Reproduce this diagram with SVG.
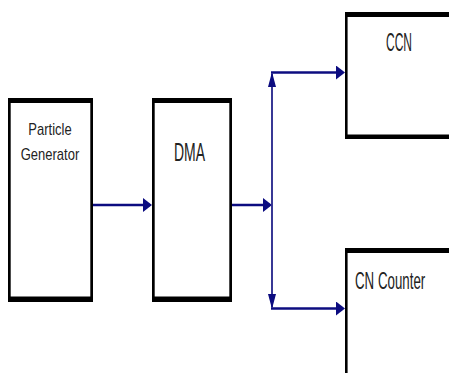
<svg xmlns="http://www.w3.org/2000/svg" width="449" height="373" viewBox="0 0 449 373">
<style>
.frame{fill:#000}
.inner{fill:#fff}
.lbl{font-family:"Liberation Sans",Arial,sans-serif;fill:#222}
.conn{fill:none;stroke:#0c0c80;stroke-width:2.7}
.vconn{fill:none;stroke:#23238a;stroke-width:1.8}
</style>
<defs>
<marker id="ah" markerUnits="userSpaceOnUse" markerWidth="9" markerHeight="14" refX="7" refY="7" orient="auto">
<path d="M0,0 L9,7 L0,14 z" fill="#0c0c80"/>
</marker>
<marker id="av" markerUnits="userSpaceOnUse" markerWidth="15" markerHeight="8" refX="13" refY="4" orient="auto">
<path d="M0,0 L15,4 L0,8 z" fill="#0c0c80"/>
</marker>
</defs>
<rect width="449" height="373" fill="#fff"/>
<g id="particle-generator">
<rect class="frame" x="8" y="98" width="85" height="204"/>
<rect class="inner" x="10.7" y="103" width="79.6" height="193.5"/>
<text class="lbl" font-size="13" text-anchor="middle" transform="translate(50,135) scale(1,1.32)">Particle</text>
<text class="lbl" font-size="13" text-anchor="middle" transform="translate(50,160) scale(1,1.32)">Generator</text>
</g>
<g id="dma">
<rect class="frame" x="152" y="98" width="80" height="204"/>
<rect class="inner" x="154.7" y="103" width="74.6" height="193.5"/>
<text class="lbl" font-size="14" text-anchor="middle" transform="translate(189.5,161) scale(1,1.8)">DMA</text>
</g>
<g id="ccn">
<rect class="frame" x="345" y="12" width="110" height="127"/>
<rect class="inner" x="347.6" y="17" width="110" height="117.5"/>
<text class="lbl" font-size="12" text-anchor="middle" transform="translate(399,51) scale(1,2.1)">CCN</text>
</g>
<g id="cn-counter">
<rect class="frame" x="345" y="248" width="110" height="130"/>
<rect class="inner" x="347.6" y="253" width="110" height="130"/>
<text class="lbl" font-size="13.3" transform="translate(355,289) scale(1,1.8)">CN Counter</text>
</g>
<g id="connectors">
<path class="conn" d="M93,205 H150" marker-end="url(#ah)"/>
<path class="conn" d="M232,205 H270" marker-end="url(#ah)"/>
<path class="vconn" d="M272,205 V74" marker-end="url(#av)"/>
<path class="vconn" d="M272,205 V307" marker-end="url(#av)"/>
<path class="conn" d="M271,72.5 H343" marker-end="url(#ah)"/>
<path class="conn" d="M271,308.5 H343" marker-end="url(#ah)"/>
</g>
</svg>
